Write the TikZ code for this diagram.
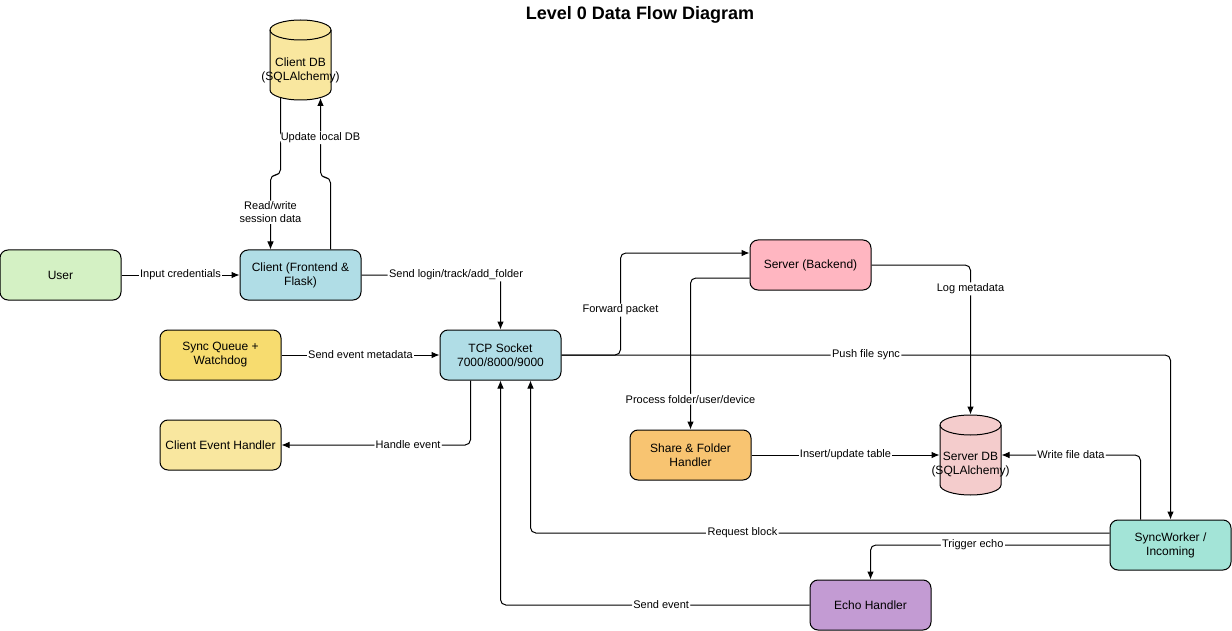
\documentclass[tikz,border=0pt]{standalone}
\usepackage{fontspec}
\setmainfont{Liberation Sans}
\usepackage{tikz}
\usetikzlibrary{positioning}
\usetikzlibrary{calc}
\usetikzlibrary{arrows.meta}

\definecolor{usergreen}{HTML}{D4F1C4}
\definecolor{clientblue}{HTML}{B0DDE6}
\definecolor{queueyellow}{HTML}{F7DC6F}
\definecolor{paleyellow}{HTML}{F9E79F}
\definecolor{serverpink}{HTML}{FFB6C1}
\definecolor{shareorange}{HTML}{F8C471}
\definecolor{dbpink}{HTML}{F4CCCC}
\definecolor{workerteal}{HTML}{A3E4D7}
\definecolor{echopurple}{HTML}{C39BD3}

% cylinder drawn round a named (invisible) node: #1 node, #2 fill
\newcommand{\drum}[2]{%
    \draw[fill=#2,-] ($(#1.center)+(-30.5,-30)$) -- ($(#1.center)+(-30.5,30)$)
        arc[start angle=180, end angle=360, x radius=22.875pt, y radius=7.5pt]
        -- ($(#1.center)+(30.5,-30)$)
        arc[start angle=0, end angle=180, x radius=22.875pt, y radius=7.5pt] -- cycle;
    \draw[-] ($(#1.center)+(-30.5,-30)$)
        arc[start angle=180, end angle=360, x radius=22.875pt, y radius=7.5pt];
}

\begin{document}
\begin{tikzpicture}[x=0.75pt,y=-0.75pt,->,>={Latex[length=6pt,width=5pt]},line width=0.75pt]
    \tikzstyle{box}=[draw, rounded corners=6pt, minimum width=90.75pt, minimum height=37.5pt, align=center, inner sep=2pt, font=\fontsize{9}{10.5}\selectfont]
    \tikzstyle{db}=[rectangle, minimum width=45.75pt, minimum height=60pt, inner sep=0pt]
    \tikzstyle{dbtext}=[align=center, yshift=-7.5pt, font=\fontsize{9}{10.5}\selectfont]
    \tikzstyle{lbl}=[fill=white, inner sep=1pt, align=center, font=\fontsize{8.25}{9.5}\selectfont]
    \tikzstyle{flow}=[rounded corners=4pt]
    \useasboundingbox (0,0) rectangle (1232,631);

    \node[font=\bfseries\fontsize{13.5}{16}\selectfont] (title) at (640,15) {Level 0 Data Flow Diagram};

    % client side
    \node[db] (cdb) at (300.5,60) {};
    \drum{cdb}{paleyellow}
    \node[dbtext] (cdbtext) at (cdb.center) {Client DB\\(SQLAlchemy)};
    \node[box, fill=usergreen] (user) at (60.5,275) {User};
    \node[box, fill=clientblue] (client) at (300.5,275) {Client (Frontend \&\\Flask)};
    \node[box, fill=queueyellow] (syncq) at (220.5,355) {Sync Queue +\\Watchdog};
    \node[box, fill=paleyellow] (ceh) at (220.5,445) {Client Event Handler};
    \node[box, fill=clientblue] (tcp) at (500.5,355) {TCP Socket\\7000/8000/9000};

    % server side
    \node[box, fill=serverpink] (server) at (810.5,265) {Server (Backend)};
    \node[box, fill=shareorange] (share) at (690.5,455) {Share \& Folder\\Handler};
    \node[db] (sdb) at (970.5,455) {};
    \drum{sdb}{dbpink}
    \node[dbtext] (sdbtext) at (sdb.center) {Server DB\\(SQLAlchemy)};
    \node[box, fill=workerteal] (worker) at (1170.5,545) {SyncWorker /\\Incoming};
    \node[box, fill=echopurple] (echo) at (870.5,605) {Echo Handler};

    \draw[flow] ($(cdb.south)+(-20,-2.5)$) -- ++(0,77) -- ++(-10,0)
        -- node[lbl]{Read/write\\session data} ($(client.north)+(-30,0)$);
    \draw[flow] ($(client.north)+(30,0)$) -- ++(0,-72) -- ++(-10,0)
        -- node[lbl]{Update local DB} ($(cdb.south)+(20,-2.5)$);
    \draw (user) -- node[lbl]{Input credentials} (client);
    \draw[flow] (client.east) -| node[lbl,pos=0.34]{Send login/track/add\_folder} (tcp.north);
    \draw (syncq) -- node[lbl]{Send event metadata} (tcp);
    \draw[flow] (tcp.east) -- ++(59,0) |- node[lbl,pos=0.22]{Forward packet} ($(server.west)+(0,-12)$);
    \draw[flow] (tcp.east) -| node[lbl,pos=0.25]{Push file sync} (worker.north);
    \draw[flow] ($(server.west)+(0,13)$) -| node[lbl,pos=0.9]{Process folder/user/device} (share.north);
    \draw[flow] (server.east) -| node[lbl,pos=0.58]{Log metadata} (sdb.north);
    \draw[flow] ($(tcp.south)+(-30,0)$) |- node[lbl,pos=0.665]{Handle event} (ceh.east);
    \draw (share) -- node[lbl]{Insert/update table} (sdb);
    \draw[flow] ($(worker.north)+(-30,0)$) |- node[lbl,pos=0.75]{Write file data} (sdb.east);
    \draw[flow] ($(worker.west)+(0,-12)$) -| node[lbl,pos=0.317]{Request block} ($(tcp.south)+(30,0)$);
    \draw[flow] (worker.west) -| node[lbl,pos=0.286]{Trigger echo} (echo.north);
    \draw[flow] (echo.west) -| node[lbl,pos=0.24]{Send event} (tcp.south);
\end{tikzpicture}
\end{document}
